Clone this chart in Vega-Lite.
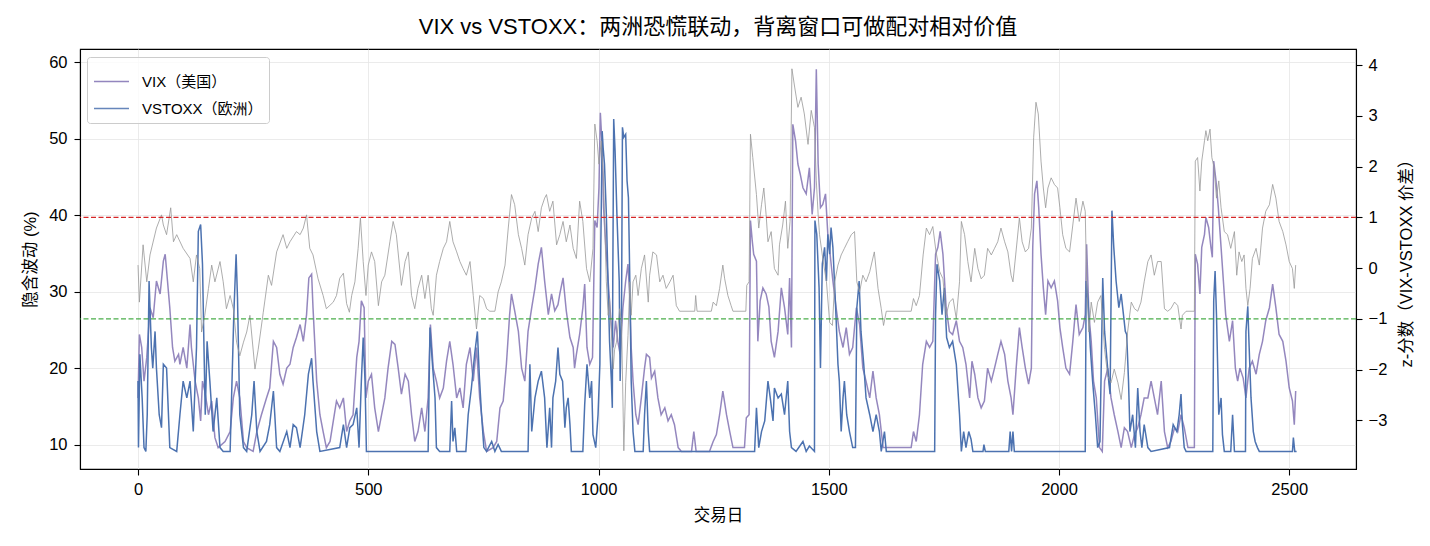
{
"$schema": "https://vega.github.io/schema/vega-lite/v6.json",
"width": 1276, "height": 420,
"autosize": {"type": "none"},
"padding": {"left": 80, "top": 49, "right": 74, "bottom": 77},
"background": "white",
"title": {"text": "VIX vs VSTOXX：两洲恐慌联动，背离窗口可做配对相对价值", "anchor": "middle", "font": "Liberation Sans, Noto Sans CJK SC", "fontSize": 22, "fontWeight": "normal", "color": "#000", "offset": 10},
"config": {
 "view": {"stroke": "#000", "strokeWidth": 1.1},
 "axis": {"labelFont": "Liberation Sans", "labelFontSize": 16.5, "labelColor": "#000", "titleFont": "Liberation Sans, Noto Sans CJK SC", "titleFontSize": 16.5, "titleFontWeight": "normal", "titleColor": "#000", "tickColor": "#000", "tickSize": 6, "tickWidth": 1.1, "domainColor": "#000", "domainWidth": 1.1, "gridColor": "#e6e6e6", "gridWidth": 0.8, "labelPadding": 6},
 "legend": {"orient": "none", "legendX": 7, "legendY": 8, "direction": "vertical", "symbolType": "stroke", "symbolSize": 1225, "symbolStrokeWidth": 1.5, "labelFont": "Liberation Sans, Noto Sans CJK SC", "labelFontSize": 15, "labelColor": "#000", "labelOffset": 12, "padding": 6, "rowPadding": 0, "strokeColor": "#cccccc", "fillColor": "rgba(255,255,255,0.8)", "cornerRadius": 3}
},
"datasets": {
"vix": [
{"d":0,"v":16.1},{"d":3,"v":24.4},{"d":8,"v":22.7},{"d":13,"v":18.3},{"d":19,"v":21.4},{"d":26,"v":27.9},{"d":33,"v":26.6},{"d":40,"v":31.4},{"d":48,"v":29.7},{"d":55,"v":34.0},{"d":59,"v":34.9},{"d":64,"v":31.4},{"d":69,"v":27.9},{"d":75,"v":22.7},{"d":80,"v":20.9},{"d":88,"v":21.8},{"d":91,"v":20.5},{"d":98,"v":22.7},{"d":106,"v":20.0},{"d":113,"v":25.7},{"d":116,"v":22.7},{"d":124,"v":18.3},{"d":131,"v":16.1},{"d":136,"v":13.1},{"d":140,"v":18.3},{"d":145,"v":17.0},{"d":153,"v":13.9},{"d":160,"v":15.7},{"d":167,"v":10.9},{"d":174,"v":9.6},{"d":189,"v":10.4},{"d":200,"v":11.7},{"d":207,"v":16.1},{"d":214,"v":18.3},{"d":221,"v":16.1},{"d":229,"v":10.4},{"d":236,"v":9.6},{"d":250,"v":9.1},{"d":258,"v":11.7},{"d":268,"v":13.9},{"d":279,"v":16.1},{"d":286,"v":17.4},{"d":294,"v":23.5},{"d":301,"v":22.7},{"d":308,"v":19.2},{"d":315,"v":17.9},{"d":323,"v":20.0},{"d":330,"v":20.5},{"d":337,"v":22.7},{"d":344,"v":24.0},{"d":352,"v":25.7},{"d":359,"v":23.5},{"d":366,"v":27.0},{"d":371,"v":31.8},{"d":377,"v":32.3},{"d":380,"v":27.9},{"d":388,"v":18.3},{"d":395,"v":13.9},{"d":402,"v":11.7},{"d":409,"v":9.6},{"d":417,"v":10.4},{"d":431,"v":15.7},{"d":438,"v":14.8},{"d":446,"v":16.1},{"d":453,"v":11.7},{"d":460,"v":13.1},{"d":467,"v":13.9},{"d":475,"v":21.4},{"d":480,"v":23.5},{"d":485,"v":28.8},{"d":491,"v":27.9},{"d":495,"v":16.1},{"d":500,"v":18.3},{"d":507,"v":19.2},{"d":514,"v":14.8},{"d":522,"v":11.7},{"d":529,"v":13.9},{"d":536,"v":16.1},{"d":543,"v":20.0},{"d":551,"v":23.5},{"d":558,"v":23.1},{"d":565,"v":20.0},{"d":572,"v":16.6},{"d":580,"v":19.2},{"d":587,"v":18.3},{"d":594,"v":13.9},{"d":601,"v":10.4},{"d":608,"v":11.7},{"d":616,"v":14.8},{"d":623,"v":11.7},{"d":630,"v":16.1},{"d":635,"v":25.7},{"d":641,"v":20.0},{"d":648,"v":18.3},{"d":655,"v":16.1},{"d":663,"v":17.4},{"d":670,"v":20.9},{"d":677,"v":23.5},{"d":684,"v":20.5},{"d":692,"v":16.1},{"d":699,"v":17.4},{"d":706,"v":14.8},{"d":713,"v":20.5},{"d":721,"v":22.7},{"d":728,"v":18.3},{"d":735,"v":22.7},{"d":742,"v":16.1},{"d":750,"v":11.7},{"d":757,"v":9.1},{"d":771,"v":9.6},{"d":779,"v":10.4},{"d":786,"v":14.8},{"d":793,"v":15.7},{"d":800,"v":20.5},{"d":807,"v":27.0},{"d":811,"v":29.7},{"d":818,"v":27.5},{"d":826,"v":24.8},{"d":833,"v":20.0},{"d":840,"v":18.3},{"d":847,"v":24.8},{"d":855,"v":27.9},{"d":862,"v":30.5},{"d":869,"v":33.6},{"d":876,"v":35.8},{"d":883,"v":31.4},{"d":891,"v":27.0},{"d":898,"v":29.7},{"d":905,"v":27.5},{"d":912,"v":28.3},{"d":916,"v":29.7},{"d":923,"v":31.8},{"d":930,"v":27.5},{"d":938,"v":24.0},{"d":945,"v":22.7},{"d":948,"v":20.0},{"d":952,"v":21.8},{"d":959,"v":24.4},{"d":966,"v":27.9},{"d":970,"v":31.0},{"d":975,"v":22.7},{"d":981,"v":20.5},{"d":987,"v":21.4},{"d":992,"v":39.3},{"d":997,"v":38.4},{"d":1001,"v":43.6},{"d":1004,"v":53.4},{"d":1008,"v":48.9},{"d":1011,"v":41.0},{"d":1016,"v":35.8},{"d":1021,"v":31.4},{"d":1026,"v":27.0},{"d":1032,"v":22.7},{"d":1037,"v":26.2},{"d":1042,"v":23.5},{"d":1047,"v":21.8},{"d":1053,"v":27.9},{"d":1059,"v":31.4},{"d":1064,"v":33.6},{"d":1068,"v":29.2},{"d":1071,"v":22.7},{"d":1075,"v":18.3},{"d":1081,"v":13.9},{"d":1086,"v":12.6},{"d":1093,"v":16.1},{"d":1100,"v":20.0},{"d":1104,"v":21.8},{"d":1111,"v":21.4},{"d":1115,"v":18.7},{"d":1122,"v":19.6},{"d":1129,"v":16.1},{"d":1136,"v":13.9},{"d":1144,"v":14.8},{"d":1151,"v":13.1},{"d":1158,"v":13.9},{"d":1165,"v":12.6},{"d":1173,"v":9.6},{"d":1180,"v":9.1},{"d":1202,"v":9.1},{"d":1207,"v":11.7},{"d":1212,"v":9.1},{"d":1241,"v":9.1},{"d":1249,"v":10.4},{"d":1256,"v":11.3},{"d":1263,"v":13.9},{"d":1270,"v":17.0},{"d":1278,"v":13.9},{"d":1285,"v":11.7},{"d":1292,"v":9.6},{"d":1317,"v":9.6},{"d":1321,"v":13.5},{"d":1327,"v":13.9},{"d":1330,"v":39.3},{"d":1334,"v":36.6},{"d":1337,"v":34.9},{"d":1343,"v":34.0},{"d":1346,"v":23.5},{"d":1351,"v":28.8},{"d":1357,"v":30.5},{"d":1364,"v":29.7},{"d":1370,"v":28.0},{"d":1375,"v":23.5},{"d":1382,"v":21.4},{"d":1390,"v":24.8},{"d":1397,"v":30.5},{"d":1404,"v":27.9},{"d":1411,"v":24.4},{"d":1415,"v":31.8},{"d":1419,"v":22.7},{"d":1422,"v":51.9},{"d":1428,"v":49.7},{"d":1433,"v":46.7},{"d":1438,"v":45.4},{"d":1444,"v":43.6},{"d":1451,"v":42.8},{"d":1458,"v":46.2},{"d":1464,"v":40.1},{"d":1469,"v":43.6},{"d":1473,"v":59.1},{"d":1477,"v":46.7},{"d":1482,"v":41.0},{"d":1487,"v":41.4},{"d":1493,"v":42.8},{"d":1498,"v":37.5},{"d":1503,"v":34.9},{"d":1509,"v":31.4},{"d":1516,"v":27.9},{"d":1523,"v":24.8},{"d":1531,"v":22.7},{"d":1538,"v":25.3},{"d":1545,"v":21.8},{"d":1552,"v":22.7},{"d":1560,"v":27.9},{"d":1567,"v":25.7},{"d":1574,"v":20.0},{"d":1581,"v":18.3},{"d":1589,"v":16.1},{"d":1596,"v":19.6},{"d":1603,"v":16.1},{"d":1610,"v":13.9},{"d":1618,"v":9.6},{"d":1679,"v":9.6},{"d":1684,"v":11.7},{"d":1690,"v":10.4},{"d":1697,"v":13.9},{"d":1704,"v":20.5},{"d":1712,"v":23.5},{"d":1719,"v":22.7},{"d":1726,"v":23.5},{"d":1732,"v":34.9},{"d":1737,"v":35.8},{"d":1742,"v":37.9},{"d":1748,"v":34.9},{"d":1755,"v":27.9},{"d":1762,"v":24.8},{"d":1769,"v":24.4},{"d":1777,"v":26.2},{"d":1784,"v":23.5},{"d":1791,"v":22.7},{"d":1798,"v":20.5},{"d":1806,"v":16.1},{"d":1811,"v":20.9},{"d":1817,"v":19.2},{"d":1824,"v":16.1},{"d":1831,"v":14.8},{"d":1838,"v":15.7},{"d":1845,"v":20.0},{"d":1853,"v":18.3},{"d":1860,"v":20.0},{"d":1867,"v":21.8},{"d":1874,"v":23.5},{"d":1882,"v":21.8},{"d":1889,"v":18.3},{"d":1896,"v":16.1},{"d":1900,"v":13.9},{"d":1907,"v":20.0},{"d":1914,"v":25.3},{"d":1920,"v":22.7},{"d":1927,"v":20.0},{"d":1934,"v":17.9},{"d":1940,"v":20.0},{"d":1943,"v":35.8},{"d":1947,"v":42.8},{"d":1952,"v":44.5},{"d":1956,"v":41.0},{"d":1961,"v":34.9},{"d":1966,"v":30.5},{"d":1971,"v":27.0},{"d":1976,"v":31.4},{"d":1983,"v":30.5},{"d":1990,"v":31.4},{"d":1997,"v":28.8},{"d":2002,"v":25.3},{"d":2008,"v":22.7},{"d":2015,"v":20.0},{"d":2023,"v":19.2},{"d":2030,"v":23.5},{"d":2037,"v":28.3},{"d":2044,"v":24.4},{"d":2052,"v":25.3},{"d":2057,"v":27.0},{"d":2060,"v":36.2},{"d":2065,"v":27.0},{"d":2070,"v":23.5},{"d":2075,"v":18.3},{"d":2081,"v":16.1},{"d":2088,"v":9.6},{"d":2094,"v":9.1},{"d":2099,"v":18.3},{"d":2106,"v":20.0},{"d":2113,"v":16.1},{"d":2120,"v":13.9},{"d":2128,"v":11.7},{"d":2135,"v":9.6},{"d":2142,"v":12.2},{"d":2149,"v":11.7},{"d":2157,"v":9.6},{"d":2164,"v":11.3},{"d":2171,"v":12.2},{"d":2178,"v":13.9},{"d":2185,"v":16.1},{"d":2193,"v":16.1},{"d":2200,"v":18.3},{"d":2207,"v":16.1},{"d":2214,"v":13.9},{"d":2222,"v":18.3},{"d":2229,"v":11.7},{"d":2236,"v":9.6},{"d":2243,"v":10.4},{"d":2251,"v":12.2},{"d":2258,"v":11.7},{"d":2265,"v":13.9},{"d":2272,"v":12.2},{"d":2280,"v":9.6},{"d":2294,"v":9.6},{"d":2296,"v":34.9},{"d":2301,"v":33.6},{"d":2306,"v":29.7},{"d":2310,"v":35.8},{"d":2316,"v":37.5},{"d":2319,"v":39.7},{"d":2325,"v":38.4},{"d":2330,"v":35.8},{"d":2333,"v":34.5},{"d":2336,"v":47.1},{"d":2341,"v":44.5},{"d":2346,"v":41.0},{"d":2352,"v":35.8},{"d":2357,"v":31.4},{"d":2362,"v":27.0},{"d":2370,"v":23.5},{"d":2377,"v":26.2},{"d":2383,"v":20.0},{"d":2388,"v":18.3},{"d":2393,"v":20.0},{"d":2400,"v":18.7},{"d":2406,"v":16.1},{"d":2413,"v":20.0},{"d":2420,"v":20.9},{"d":2428,"v":19.2},{"d":2435,"v":21.8},{"d":2442,"v":23.5},{"d":2449,"v":26.2},{"d":2457,"v":27.9},{"d":2464,"v":31.0},{"d":2471,"v":27.9},{"d":2478,"v":24.4},{"d":2486,"v":23.5},{"d":2493,"v":20.9},{"d":2500,"v":17.4},{"d":2507,"v":15.7},{"d":2511,"v":12.6},{"d":2514,"v":17.0}
],
"vs": [
{"d":0,"v":18.3},{"d":1,"v":9.6},{"d":4,"v":21.8},{"d":9,"v":16.1},{"d":13,"v":9.6},{"d":17,"v":9.1},{"d":20,"v":13.9},{"d":24,"v":31.4},{"d":29,"v":22.7},{"d":32,"v":20.0},{"d":37,"v":24.8},{"d":40,"v":20.0},{"d":46,"v":13.9},{"d":51,"v":12.2},{"d":55,"v":20.5},{"d":62,"v":20.0},{"d":69,"v":9.6},{"d":84,"v":9.1},{"d":91,"v":13.9},{"d":98,"v":18.3},{"d":106,"v":16.1},{"d":113,"v":18.3},{"d":120,"v":11.7},{"d":127,"v":22.7},{"d":131,"v":37.9},{"d":136,"v":38.8},{"d":140,"v":33.6},{"d":143,"v":23.5},{"d":146,"v":13.9},{"d":150,"v":23.5},{"d":156,"v":18.3},{"d":163,"v":11.7},{"d":171,"v":16.1},{"d":178,"v":9.6},{"d":185,"v":9.1},{"d":200,"v":9.1},{"d":208,"v":27.0},{"d":213,"v":34.9},{"d":216,"v":29.2},{"d":221,"v":13.9},{"d":229,"v":9.6},{"d":236,"v":9.1},{"d":247,"v":13.9},{"d":252,"v":18.3},{"d":258,"v":11.7},{"d":265,"v":9.1},{"d":279,"v":10.4},{"d":286,"v":12.6},{"d":294,"v":17.0},{"d":297,"v":13.9},{"d":301,"v":9.6},{"d":308,"v":9.1},{"d":323,"v":11.7},{"d":330,"v":9.6},{"d":337,"v":12.6},{"d":344,"v":12.2},{"d":352,"v":9.6},{"d":362,"v":13.9},{"d":370,"v":19.2},{"d":377,"v":21.3},{"d":380,"v":18.3},{"d":388,"v":11.7},{"d":395,"v":9.1},{"d":438,"v":9.6},{"d":446,"v":12.6},{"d":453,"v":9.6},{"d":460,"v":12.2},{"d":467,"v":12.6},{"d":475,"v":14.8},{"d":480,"v":9.6},{"d":485,"v":18.3},{"d":489,"v":24.0},{"d":493,"v":18.3},{"d":496,"v":9.1},{"d":630,"v":9.1},{"d":634,"v":25.3},{"d":640,"v":20.0},{"d":645,"v":16.1},{"d":648,"v":9.6},{"d":655,"v":9.1},{"d":677,"v":9.1},{"d":681,"v":15.7},{"d":684,"v":10.4},{"d":688,"v":12.2},{"d":692,"v":9.1},{"d":712,"v":9.1},{"d":717,"v":13.9},{"d":724,"v":17.4},{"d":731,"v":21.8},{"d":737,"v":24.8},{"d":741,"v":19.2},{"d":746,"v":13.9},{"d":751,"v":9.6},{"d":757,"v":9.1},{"d":768,"v":10.4},{"d":775,"v":9.1},{"d":782,"v":10.0},{"d":789,"v":9.1},{"d":847,"v":9.1},{"d":851,"v":20.5},{"d":855,"v":11.7},{"d":862,"v":16.1},{"d":869,"v":18.3},{"d":876,"v":19.6},{"d":883,"v":16.1},{"d":888,"v":9.6},{"d":894,"v":14.8},{"d":898,"v":9.6},{"d":901,"v":16.1},{"d":907,"v":18.3},{"d":912,"v":22.7},{"d":916,"v":19.2},{"d":922,"v":18.3},{"d":927,"v":12.2},{"d":930,"v":14.8},{"d":934,"v":16.1},{"d":938,"v":12.6},{"d":941,"v":9.1},{"d":966,"v":9.1},{"d":970,"v":15.2},{"d":975,"v":20.5},{"d":981,"v":16.1},{"d":985,"v":18.3},{"d":988,"v":11.3},{"d":994,"v":9.6},{"d":999,"v":13.9},{"d":1003,"v":20.5},{"d":1005,"v":35.8},{"d":1008,"v":51.0},{"d":1010,"v":48.9},{"d":1013,"v":46.7},{"d":1017,"v":40.1},{"d":1021,"v":30.5},{"d":1024,"v":23.5},{"d":1028,"v":18.3},{"d":1030,"v":14.8},{"d":1031,"v":31.4},{"d":1033,"v":52.6},{"d":1036,"v":48.4},{"d":1040,"v":40.1},{"d":1045,"v":31.4},{"d":1047,"v":18.3},{"d":1050,"v":27.0},{"d":1052,"v":51.5},{"d":1055,"v":50.2},{"d":1059,"v":50.6},{"d":1062,"v":44.5},{"d":1065,"v":42.3},{"d":1068,"v":31.4},{"d":1071,"v":18.3},{"d":1075,"v":11.7},{"d":1079,"v":9.1},{"d":1097,"v":9.1},{"d":1100,"v":13.9},{"d":1104,"v":18.3},{"d":1108,"v":11.7},{"d":1111,"v":9.1},{"d":1339,"v":9.1},{"d":1343,"v":14.8},{"d":1348,"v":9.6},{"d":1354,"v":11.7},{"d":1361,"v":13.1},{"d":1368,"v":18.3},{"d":1373,"v":16.1},{"d":1379,"v":13.1},{"d":1382,"v":17.4},{"d":1390,"v":16.1},{"d":1397,"v":16.6},{"d":1404,"v":13.9},{"d":1411,"v":18.3},{"d":1415,"v":11.7},{"d":1419,"v":9.6},{"d":1429,"v":9.1},{"d":1444,"v":10.4},{"d":1451,"v":9.1},{"d":1458,"v":9.8},{"d":1469,"v":9.1},{"d":1470,"v":39.3},{"d":1474,"v":37.5},{"d":1479,"v":30.5},{"d":1482,"v":20.0},{"d":1486,"v":33.6},{"d":1491,"v":35.8},{"d":1495,"v":31.4},{"d":1498,"v":37.5},{"d":1502,"v":34.9},{"d":1505,"v":38.4},{"d":1509,"v":35.8},{"d":1515,"v":27.9},{"d":1520,"v":20.5},{"d":1523,"v":18.3},{"d":1527,"v":11.7},{"d":1531,"v":16.1},{"d":1534,"v":18.3},{"d":1539,"v":13.9},{"d":1545,"v":11.7},{"d":1552,"v":9.6},{"d":1558,"v":9.6},{"d":1561,"v":27.9},{"d":1566,"v":31.4},{"d":1570,"v":24.8},{"d":1576,"v":20.5},{"d":1581,"v":16.1},{"d":1589,"v":13.9},{"d":1596,"v":11.7},{"d":1603,"v":13.9},{"d":1610,"v":11.7},{"d":1614,"v":9.1},{"d":1621,"v":11.7},{"d":1625,"v":9.1},{"d":1730,"v":9.1},{"d":1732,"v":27.0},{"d":1735,"v":33.6},{"d":1741,"v":31.4},{"d":1746,"v":27.0},{"d":1751,"v":30.5},{"d":1756,"v":24.0},{"d":1762,"v":22.7},{"d":1769,"v":23.5},{"d":1777,"v":20.5},{"d":1784,"v":13.9},{"d":1788,"v":9.1},{"d":1793,"v":11.7},{"d":1798,"v":9.6},{"d":1804,"v":11.7},{"d":1809,"v":10.7},{"d":1813,"v":9.1},{"d":1835,"v":9.1},{"d":1837,"v":10.0},{"d":1840,"v":9.1},{"d":1891,"v":9.1},{"d":1894,"v":11.7},{"d":1897,"v":9.1},{"d":1900,"v":11.7},{"d":1903,"v":9.1},{"d":2057,"v":9.1},{"d":2059,"v":31.4},{"d":2063,"v":28.8},{"d":2068,"v":22.7},{"d":2073,"v":18.3},{"d":2079,"v":13.9},{"d":2084,"v":9.6},{"d":2089,"v":10.4},{"d":2095,"v":31.8},{"d":2099,"v":24.8},{"d":2102,"v":22.7},{"d":2108,"v":18.3},{"d":2111,"v":16.6},{"d":2115,"v":40.6},{"d":2119,"v":35.8},{"d":2124,"v":31.4},{"d":2130,"v":27.9},{"d":2135,"v":29.7},{"d":2140,"v":27.0},{"d":2144,"v":24.8},{"d":2147,"v":24.4},{"d":2151,"v":18.3},{"d":2154,"v":11.7},{"d":2160,"v":13.9},{"d":2166,"v":9.6},{"d":2171,"v":17.4},{"d":2176,"v":11.7},{"d":2180,"v":9.6},{"d":2185,"v":12.6},{"d":2193,"v":9.6},{"d":2200,"v":9.1},{"d":2240,"v":9.6},{"d":2248,"v":12.6},{"d":2256,"v":11.7},{"d":2261,"v":13.9},{"d":2265,"v":16.6},{"d":2268,"v":12.6},{"d":2272,"v":9.6},{"d":2276,"v":9.1},{"d":2334,"v":9.1},{"d":2336,"v":28.8},{"d":2339,"v":32.7},{"d":2342,"v":27.0},{"d":2347,"v":13.9},{"d":2352,"v":16.1},{"d":2355,"v":11.3},{"d":2359,"v":9.1},{"d":2373,"v":9.1},{"d":2377,"v":13.9},{"d":2381,"v":9.1},{"d":2405,"v":9.1},{"d":2406,"v":24.8},{"d":2410,"v":28.1},{"d":2413,"v":22.7},{"d":2417,"v":16.1},{"d":2422,"v":11.7},{"d":2426,"v":10.4},{"d":2431,"v":9.6},{"d":2435,"v":9.1},{"d":2507,"v":9.1},{"d":2509,"v":10.9},{"d":2512,"v":9.1},{"d":2516,"v":9.1}
],
"z": [
{"d":0,"v":0.06},{"d":3,"v":-0.67},{"d":11,"v":0.46},{"d":19,"v":-0.27},{"d":26,"v":0.26},{"d":40,"v":0.79},{"d":51,"v":1.05},{"d":55,"v":0.85},{"d":62,"v":0.66},{"d":71,"v":1.19},{"d":77,"v":0.52},{"d":84,"v":0.66},{"d":98,"v":0.39},{"d":113,"v":0.19},{"d":120,"v":-0.27},{"d":127,"v":0.26},{"d":134,"v":-0.01},{"d":138,"v":-1.26},{"d":145,"v":-0.93},{"d":153,"v":-0.40},{"d":160,"v":0.06},{"d":167,"v":-0.27},{"d":178,"v":0.13},{"d":185,"v":-0.27},{"d":192,"v":-0.80},{"d":200,"v":-0.54},{"d":207,"v":-0.80},{"d":214,"v":-1.46},{"d":221,"v":-1.73},{"d":229,"v":-1.46},{"d":236,"v":-1.26},{"d":243,"v":-0.93},{"d":254,"v":-1.99},{"d":261,"v":-1.60},{"d":272,"v":-0.87},{"d":283,"v":-0.14},{"d":290,"v":-0.34},{"d":301,"v":0.32},{"d":315,"v":0.66},{"d":323,"v":0.39},{"d":330,"v":0.52},{"d":344,"v":0.72},{"d":352,"v":0.66},{"d":359,"v":0.79},{"d":366,"v":1.05},{"d":373,"v":0.39},{"d":380,"v":0.26},{"d":391,"v":-0.21},{"d":402,"v":-0.54},{"d":409,"v":-0.80},{"d":424,"v":-0.67},{"d":431,"v":-0.54},{"d":438,"v":-0.2},{"d":446,"v":-0.1},{"d":453,"v":-0.7},{"d":459,"v":-0.87},{"d":464,"v":-0.54},{"d":471,"v":-0.27},{"d":478,"v":0.39},{"d":483,"v":0.99},{"d":489,"v":0.13},{"d":495,"v":-0.54},{"d":500,"v":0.06},{"d":507,"v":0.32},{"d":514,"v":0.13},{"d":522,"v":-0.74},{"d":529,"v":-0.27},{"d":536,"v":-0.14},{"d":547,"v":0.52},{"d":554,"v":0.92},{"d":561,"v":0.66},{"d":572,"v":-0.34},{"d":580,"v":0.13},{"d":587,"v":0.32},{"d":594,"v":-0.54},{"d":601,"v":-0.80},{"d":608,"v":-0.40},{"d":616,"v":-0.14},{"d":623,"v":-0.60},{"d":630,"v":-0.14},{"d":637,"v":-0.80},{"d":641,"v":-0.93},{"d":648,"v":-0.14},{"d":655,"v":0.13},{"d":663,"v":0.39},{"d":670,"v":0.52},{"d":677,"v":0.92},{"d":684,"v":0.52},{"d":692,"v":0.32},{"d":699,"v":0.13},{"d":706,"v":-0.01},{"d":713,"v":-0.14},{"d":721,"v":0.13},{"d":728,"v":-0.54},{"d":735,"v":-1.20},{"d":742,"v":-0.54},{"d":750,"v":-0.60},{"d":757,"v":-0.80},{"d":764,"v":-0.85},{"d":775,"v":-0.85},{"d":782,"v":-0.47},{"d":789,"v":-0.27},{"d":797,"v":0.06},{"d":804,"v":0.79},{"d":811,"v":1.45},{"d":818,"v":1.25},{"d":826,"v":0.66},{"d":833,"v":0.39},{"d":840,"v":0.06},{"d":847,"v":0.66},{"d":855,"v":0.99},{"d":862,"v":1.12},{"d":869,"v":0.72},{"d":876,"v":1.19},{"d":883,"v":1.38},{"d":887,"v":1.45},{"d":894,"v":1.12},{"d":901,"v":1.32},{"d":909,"v":0.46},{"d":916,"v":0.66},{"d":923,"v":0.92},{"d":930,"v":0.52},{"d":938,"v":0.85},{"d":945,"v":0.39},{"d":952,"v":0.19},{"d":959,"v":1.32},{"d":966,"v":0.92},{"d":974,"v":-0.01},{"d":981,"v":-0.27},{"d":988,"v":0.39},{"d":992,"v":2.84},{"d":997,"v":2.51},{"d":1001,"v":2.05},{"d":1006,"v":2.51},{"d":1011,"v":1.72},{"d":1017,"v":-0.27},{"d":1021,"v":-0.93},{"d":1024,"v":-0.60},{"d":1032,"v":-1.99},{"d":1035,"v":-1.60},{"d":1039,"v":-1.46},{"d":1046,"v":-0.80},{"d":1050,"v":-1.07},{"d":1055,"v":-3.6},{"d":1059,"v":-2.26},{"d":1064,"v":-1.33},{"d":1068,"v":-0.27},{"d":1071,"v":-0.93},{"d":1075,"v":-0.27},{"d":1081,"v":-0.14},{"d":1086,"v":-0.54},{"d":1093,"v":-0.01},{"d":1100,"v":0.26},{"d":1108,"v":-0.67},{"d":1111,"v":-0.14},{"d":1118,"v":0.32},{"d":1126,"v":0.26},{"d":1133,"v":-0.27},{"d":1140,"v":-0.14},{"d":1147,"v":-0.40},{"d":1155,"v":-0.27},{"d":1162,"v":-0.14},{"d":1169,"v":-0.74},{"d":1176,"v":-0.85},{"d":1209,"v":-0.85},{"d":1211,"v":-0.54},{"d":1214,"v":-0.85},{"d":1245,"v":-0.85},{"d":1249,"v":-0.67},{"d":1256,"v":-0.74},{"d":1263,"v":-0.40},{"d":1270,"v":0.06},{"d":1274,"v":-0.21},{"d":1281,"v":-0.54},{"d":1288,"v":-0.74},{"d":1292,"v":-0.85},{"d":1320,"v":-0.85},{"d":1322,"v":-0.34},{"d":1327,"v":-0.27},{"d":1330,"v":2.64},{"d":1335,"v":2.18},{"d":1343,"v":1.45},{"d":1348,"v":0.79},{"d":1354,"v":1.25},{"d":1359,"v":1.58},{"d":1364,"v":1.05},{"d":1368,"v":0.52},{"d":1375,"v":0.72},{"d":1382,"v":-0.01},{"d":1390,"v":-0.14},{"d":1393,"v":0.46},{"d":1400,"v":0.85},{"d":1406,"v":1.32},{"d":1411,"v":0.39},{"d":1416,"v":0.92},{"d":1420,"v":3.93},{"d":1426,"v":3.57},{"d":1433,"v":3.17},{"d":1440,"v":3.37},{"d":1447,"v":3.04},{"d":1455,"v":2.44},{"d":1462,"v":3.11},{"d":1469,"v":2.77},{"d":1473,"v":1.72},{"d":1477,"v":1.05},{"d":1480,"v":0.66},{"d":1487,"v":0.19},{"d":1495,"v":-0.27},{"d":1502,"v":-1.07},{"d":1508,"v":-1.13},{"d":1513,"v":-0.27},{"d":1520,"v":0.06},{"d":1527,"v":0.26},{"d":1534,"v":0.39},{"d":1541,"v":0.52},{"d":1549,"v":0.66},{"d":1556,"v":0.72},{"d":1561,"v":-0.27},{"d":1567,"v":-0.47},{"d":1574,"v":-0.14},{"d":1581,"v":-0.27},{"d":1589,"v":-0.07},{"d":1599,"v":0.32},{"d":1607,"v":-0.40},{"d":1614,"v":-0.80},{"d":1619,"v":-1.13},{"d":1625,"v":-0.85},{"d":1679,"v":-0.85},{"d":1684,"v":-0.60},{"d":1690,"v":-0.74},{"d":1697,"v":-0.54},{"d":1705,"v":0.26},{"d":1712,"v":0.79},{"d":1719,"v":0.66},{"d":1726,"v":0.82},{"d":1733,"v":0.32},{"d":1741,"v":-0.07},{"d":1748,"v":-0.21},{"d":1755,"v":-0.93},{"d":1762,"v":-0.67},{"d":1770,"v":-0.60},{"d":1777,"v":-1.0},{"d":1784,"v":-0.27},{"d":1788,"v":0.92},{"d":1795,"v":0.66},{"d":1802,"v":0.13},{"d":1809,"v":-0.27},{"d":1817,"v":0.39},{"d":1824,"v":-0.01},{"d":1831,"v":-0.21},{"d":1838,"v":-0.14},{"d":1845,"v":0.39},{"d":1853,"v":0.26},{"d":1860,"v":0.39},{"d":1867,"v":0.52},{"d":1874,"v":0.79},{"d":1882,"v":0.52},{"d":1889,"v":0.32},{"d":1896,"v":-0.14},{"d":1900,"v":-0.27},{"d":1906,"v":0.26},{"d":1914,"v":0.99},{"d":1920,"v":0.52},{"d":1927,"v":0.32},{"d":1934,"v":0.39},{"d":1940,"v":0.79},{"d":1945,"v":2.58},{"d":1950,"v":3.27},{"d":1955,"v":3.04},{"d":1961,"v":2.11},{"d":1966,"v":1.58},{"d":1971,"v":1.19},{"d":1976,"v":1.58},{"d":1983,"v":1.78},{"d":1990,"v":1.65},{"d":1997,"v":1.58},{"d":2002,"v":1.19},{"d":2008,"v":0.66},{"d":2015,"v":0.39},{"d":2023,"v":0.32},{"d":2030,"v":0.85},{"d":2037,"v":1.38},{"d":2044,"v":0.92},{"d":2052,"v":1.32},{"d":2057,"v":1.12},{"d":2060,"v":-0.27},{"d":2065,"v":-1.26},{"d":2070,"v":-0.67},{"d":2077,"v":-1.07},{"d":2084,"v":-0.67},{"d":2091,"v":-0.54},{"d":2099,"v":-1.60},{"d":2106,"v":-2.13},{"d":2113,"v":-2.26},{"d":2120,"v":-1.99},{"d":2128,"v":-2.26},{"d":2135,"v":-2.59},{"d":2142,"v":-2.06},{"d":2149,"v":-1.26},{"d":2157,"v":-0.67},{"d":2164,"v":-0.80},{"d":2171,"v":-0.85},{"d":2178,"v":-0.67},{"d":2185,"v":-0.27},{"d":2193,"v":0.13},{"d":2200,"v":0.26},{"d":2207,"v":-0.14},{"d":2214,"v":0.13},{"d":2222,"v":0.13},{"d":2229,"v":-0.80},{"d":2236,"v":-0.85},{"d":2243,"v":-0.80},{"d":2251,"v":-0.67},{"d":2258,"v":-0.74},{"d":2265,"v":-1.20},{"d":2268,"v":-0.93},{"d":2276,"v":-0.85},{"d":2294,"v":-0.85},{"d":2296,"v":2.11},{"d":2301,"v":2.18},{"d":2306,"v":1.52},{"d":2310,"v":2.11},{"d":2316,"v":2.51},{"d":2319,"v":2.71},{"d":2323,"v":2.51},{"d":2328,"v":2.74},{"d":2332,"v":2.18},{"d":2337,"v":1.98},{"d":2342,"v":1.38},{"d":2347,"v":1.72},{"d":2352,"v":1.19},{"d":2359,"v":0.72},{"d":2366,"v":0.66},{"d":2373,"v":0.39},{"d":2381,"v":0.72},{"d":2386,"v":-0.14},{"d":2391,"v":0.32},{"d":2397,"v":0.13},{"d":2402,"v":0.26},{"d":2406,"v":-0.40},{"d":2410,"v":-0.74},{"d":2415,"v":-0.40},{"d":2420,"v":0.19},{"d":2428,"v":0.39},{"d":2435,"v":0.06},{"d":2442,"v":0.79},{"d":2449,"v":1.12},{"d":2457,"v":1.25},{"d":2464,"v":1.65},{"d":2471,"v":1.38},{"d":2478,"v":0.92},{"d":2486,"v":0.72},{"d":2493,"v":0.46},{"d":2500,"v":0.13},{"d":2507,"v":-0.01},{"d":2511,"v":-0.40},{"d":2514,"v":0.06}
]
},
"layer": [
 {"layer": [
  {"data": {"name": "vix"}, "mark": {"type": "line", "strokeWidth": 1.5, "opacity": 0.85},
   "encoding": {
    "x": {"field": "d", "type": "quantitative", "scale": {"domain": [-126, 2645], "nice": false, "zero": false}, "axis": {"values": [0, 500, 1000, 1500, 2000, 2500], "format": "d", "title": "交易日", "grid": true, "labelPadding": 6, "titlePadding": 10, "labelFlush": false}},
    "y": {"field": "v", "type": "quantitative", "scale": {"domain": [6.8, 61.75], "nice": false, "zero": false}, "axis": {"values": [10, 20, 30, 40, 50, 60], "title": "隐含波动 (%)", "grid": true, "labelPadding": 7, "titlePadding": 10}},
    "color": {"datum": "VIX（美国）", "type": "nominal", "scale": {"domain": ["VIX（美国）", "VSTOXX（欧洲）"], "range": ["#8172B3", "#4C72B0"]}, "legend": {"title": null}}
   }},
  {"data": {"name": "vs"}, "mark": {"type": "line", "strokeWidth": 1.5},
   "encoding": {
    "x": {"field": "d", "type": "quantitative"},
    "y": {"field": "v", "type": "quantitative", "title": "隐含波动 (%)"},
    "color": {"datum": "VSTOXX（欧洲）", "type": "nominal"}
   }}
 ]},
 {"layer": [
  {"data": {"name": "z"}, "mark": {"type": "line", "strokeWidth": 1, "color": "#999999", "opacity": 0.8},
   "encoding": {
    "x": {"field": "d", "type": "quantitative"},
    "y": {"field": "v", "type": "quantitative", "scale": {"domain": [-3.96, 4.32], "nice": false, "zero": false}, "axis": {"orient": "right", "values": [-3, -2, -1, 0, 1, 2, 3, 4], "grid": false, "title": "z-分数（VIX-VSTOXX 价差）", "titleAngle": -90, "titleBaseline": "top", "labelPadding": 6, "titlePadding": 12}}
   }},
  {"data": {"values": [{}]}, "mark": {"type": "rule", "stroke": "#d62728", "strokeOpacity": 1, "strokeWidth": 1.2, "strokeDash": [5, 2.5]},
   "encoding": {"y": {"datum": 1, "type": "quantitative", "title": "z-分数（VIX-VSTOXX 价差）"}}},
  {"data": {"values": [{}]}, "mark": {"type": "rule", "stroke": "#2ca02c", "strokeOpacity": 0.85, "strokeWidth": 1.1, "strokeDash": [5, 2.5]},
   "encoding": {"y": {"datum": -1, "type": "quantitative", "title": "z-分数（VIX-VSTOXX 价差）"}}}
 ]}
],
"resolve": {"scale": {"y": "independent"}}
}
